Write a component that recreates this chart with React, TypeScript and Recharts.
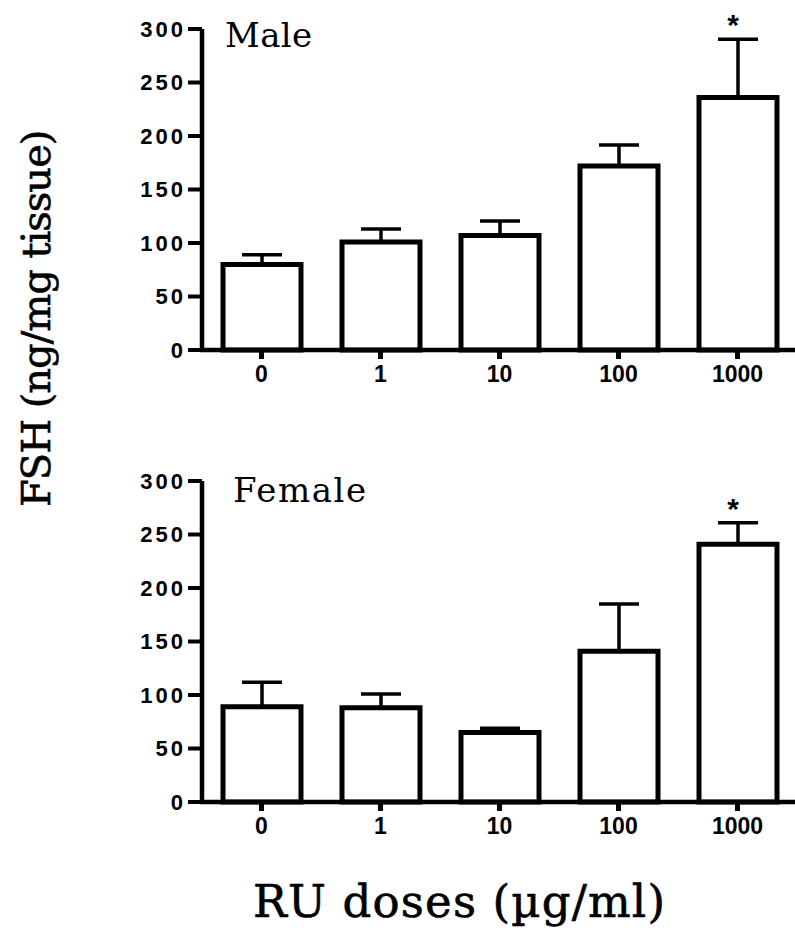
import { BarChart, Bar, XAxis, YAxis, ErrorBar, LabelList } from 'recharts';

const doses = ['0', '1', '10', '100', '1000'];
const maleMean = [80, 101, 107, 172, 236];
const maleSem = [9, 12, 13.5, 19.5, 54.5];
const maleSig = [false, false, false, false, true];
const femaleMean = [89, 88, 65, 141, 241];
const femaleSem = [23, 13, 4, 44, 20];
const femaleSig = [false, false, false, false, true];
const yTicks = [0, 50, 100, 150, 200, 250, 300];

interface Row {
  dose: string;
  mean: number;
  sem: number;
  err: [number, number];
  star: string;
}

const buildRows = (mean: number[], sem: number[], sig: boolean[]): Row[] =>
  doses.map((dose, i) => ({
    dose,
    mean: mean[i],
    sem: sem[i],
    err: [0, sem[i]], // upper whisker only
    star: sig[i] ? '*' : '',
  }));

const maleRows = buildRows(maleMean, maleSem, maleSig);
const femaleRows = buildRows(femaleMean, femaleSem, femaleSig);

const sans = 'Liberation Sans, Arial, sans-serif';
const serif = 'DejaVu Serif, serif';

const XTick = ({ x, y, payload }: any) => (
  <text
    x={x}
    y={y}
    dy="0.72em"
    textAnchor="middle"
    fontSize={23}
    fontWeight="bold"
    fontFamily={sans}
    fill="#000"
  >
    {payload.value}
  </text>
);

const YTick = ({ x, y, payload }: any) => (
  <text
    x={x}
    y={y}
    dy="0.36em"
    textAnchor="end"
    fontSize={22}
    fontWeight="bold"
    fontFamily={sans}
    letterSpacing={3}
    fill="#000"
  >
    {payload.value}
  </text>
);

function Panel({ rows }: { rows: Row[] }) {
  // asterisk sits above the error bar cap, using the bar's own px/unit scale
  const renderStar = (props: any) => {
    const { x, y, width, height, value, index } = props;
    if (!value) return null;
    const row = rows[index];
    const capY = y - (row.sem * height) / row.mean;
    return (
      <text
        x={x + width / 2 - 5}
        y={capY - 4}
        textAnchor="middle"
        fontSize={30}
        fontWeight="bold"
        fontFamily={sans}
        fill="#000"
      >
        {value}
      </text>
    );
  };

  return (
    <BarChart
      width={797}
      height={400}
      data={rows}
      margin={{ top: 29, right: 0, left: 0, bottom: 0 }}
    >
      <XAxis
        dataKey="dose"
        height={50}
        axisLine={{ stroke: '#000', strokeWidth: 4.5, strokeLinecap: 'square' }}
        tickLine={{ stroke: '#000', strokeWidth: 5 }}
        tickSize={9}
        tickMargin={6}
        tick={<XTick />}
      />
      <YAxis
        width={202}
        domain={[0, 300]}
        ticks={yTicks}
        interval={0}
        axisLine={{ stroke: '#000', strokeWidth: 4.5 }}
        tickLine={{ stroke: '#000', strokeWidth: 4 }}
        tickSize={14}
        tickMargin={2}
        tick={<YTick />}
      />
      <Bar
        dataKey="mean"
        barSize={78}
        fill="#fff"
        stroke="#000"
        strokeWidth={5}
        isAnimationActive={false}
      >
        <ErrorBar
          dataKey="err"
          width={20}
          stroke="#000"
          strokeWidth={3.5}
          direction="y"
        />
        <LabelList dataKey="star" content={renderStar} />
      </Bar>
    </BarChart>
  );
}

export default function App() {
  return (
    <div
      style={{
        position: 'absolute',
        left: 0,
        top: 0,
        width: 795,
        height: 938,
        overflow: 'hidden',
        background: '#fff',
      }}
    >
      <div style={{ position: 'absolute', left: 0, top: 0 }}>
        <Panel rows={maleRows} />
      </div>
      <div style={{ position: 'absolute', left: 0, top: 452 }}>
        <Panel rows={femaleRows} />
      </div>
      <svg
        width={795}
        height={938}
        style={{ position: 'absolute', left: 0, top: 0, pointerEvents: 'none' }}
      >
        <text x={225} y={47} fontSize={34} fontFamily={serif} textLength={87} lengthAdjust="spacing">
          Male
        </text>
        <text x={233} y={502} fontSize={34} fontFamily={serif} textLength={133} lengthAdjust="spacing">
          Female
        </text>
        <text
          x={50}
          y={507}
          transform="rotate(-90, 50, 507)"
          fontSize={40}
          fontFamily={serif}
          stroke="#000"
          strokeWidth={0.6}
          letterSpacing={-1}
        >
          FSH (ng/mg tissue)
        </text>
        <text
          x={253}
          y={917}
          fontSize={45}
          fontFamily={serif}
          stroke="#000"
          strokeWidth={0.6}
          textLength={412}
          lengthAdjust="spacing"
        >
          RU doses (µg/ml)
        </text>
      </svg>
    </div>
  );
}
